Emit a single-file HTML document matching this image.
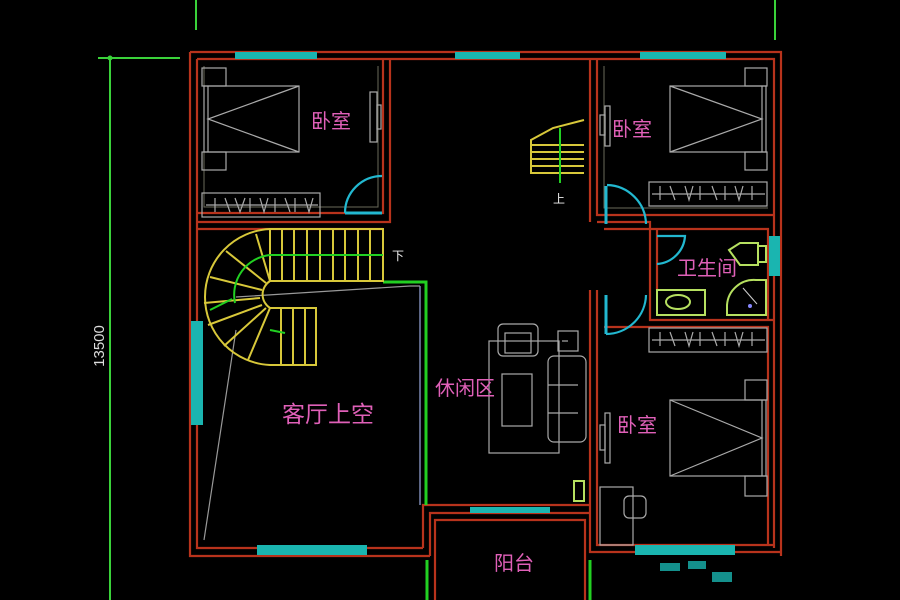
<!DOCTYPE html>
<html><head><meta charset="utf-8"><style>
html,body{margin:0;padding:0;background:#000;width:900px;height:600px;overflow:hidden}
svg{display:block}
text{font-family:"Liberation Sans","Noto Sans CJK SC",sans-serif}
.cn{fill:#e060b8;font-family:"Noto Sans CJK SC","WenQuanYi Zen Hei",sans-serif}
</style></head><body>
<svg width="900" height="600" viewBox="0 0 900 600" xmlns="http://www.w3.org/2000/svg">
<rect width="900" height="600" fill="#000"/>
<!-- dimension -->
<g stroke="#3ad23a" stroke-width="2" fill="none">
<line x1="196" y1="0" x2="196" y2="30"/>
<line x1="775" y1="0" x2="775" y2="40"/>
<line x1="110" y1="58" x2="110" y2="600"/>
<line x1="98" y1="58" x2="180" y2="58"/>
</g>
<circle cx="110" cy="58" r="2.5" fill="#3ad23a"/>
<text x="0" y="0" transform="translate(104,346) rotate(-90)" fill="#ddd" font-size="15" text-anchor="middle">13500</text>

<!-- walls -->
<g stroke="#b8331c" stroke-width="2.2" fill="none">
<!-- outer -->
<path d="M190 52 H781 V556"/>
<path d="M190 52 V556 H430"/>
<path d="M197 59 H774 V548"/>
<path d="M197 59 V548 H423"/>
<!-- left bedroom -->
<path d="M383 59 V213 H197"/>
<path d="M390 59 V222 H197"/>
<path d="M197 229 H383"/>
<!-- right bedrooms -->
<path d="M590 59 V222"/>
<path d="M597 59 V215 H774"/>
<path d="M597 222 H650 V320 H774"/>
<path d="M604 229 H768 V320"/>
<path d="M657 229 V290"/>
<path d="M590 290 V552 H597"/>
<path d="M597 290 V545 H774"/>
<path d="M604 327 H768 V545"/>
<!-- balcony -->
<path d="M423 548 V505 H590"/>
<path d="M430 556 V513 H590"/>
<path d="M435 600 V520 H585 V600"/>
<path d="M597 552 H781"/>
</g>
<!-- greyish inner lines -->
<g stroke="#6a6a5a" stroke-width="1" fill="none">
<path d="M204 66 V207 H378 V66"/>
<path d="M604 66 V208 H768"/>
</g>
<!-- windows cyan -->
<g fill="#1ab5b0">
<rect x="235" y="52" width="82" height="7"/>
<rect x="455" y="52" width="65" height="7"/>
<rect x="640" y="52" width="86" height="7"/>
<rect x="191" y="321" width="12" height="104"/>
<rect x="257" y="545" width="110" height="10"/>
<rect x="635" y="545" width="100" height="10"/>
<rect x="769" y="236" width="11" height="40"/>
<rect x="470" y="507" width="80" height="6"/>
</g>
<!-- green lines -->
<g stroke="#22d022" stroke-width="3" fill="none">
<path d="M383 282 H426 V505"/>
<line x1="427" y1="560" x2="427" y2="600"/>
<line x1="590" y1="560" x2="590" y2="600"/>
</g>
<line x1="420" y1="286" x2="420" y2="505" stroke="#9ad" stroke-width="1.2"/>
<!-- doors cyan -->
<g stroke="#22b8d0" stroke-width="2.2" fill="none">
<path d="M345 213 A37 37 0 0 1 382 176"/><line x1="345" y1="213" x2="382" y2="213" stroke-width="3"/>
<path d="M607 185 A40 40 0 0 1 646 224"/><line x1="606" y1="186" x2="606" y2="224" stroke-width="3"/>
<path d="M657 236 H685 A30 30 0 0 1 657 264"/>
<path d="M606 295 V334 M606 334 A40 40 0 0 0 646 295"/><line x1="606" y1="295" x2="606" y2="334" stroke-width="3"/>
</g>
<!-- left bedroom furniture -->
<g stroke="#aaa" stroke-width="1.2" fill="none">
<rect x="202" y="68" width="24" height="18"/>
<rect x="202" y="152" width="24" height="18"/>
<rect x="204" y="86" width="95" height="66"/><line x1="208" y1="86" x2="208" y2="152"/>
<path d="M299 86 L208 119 L299 152"/>
<rect x="370" y="92" width="7" height="50"/><rect x="377" y="105" width="4" height="24"/>
<rect x="202" y="193" width="118" height="24"/>
<path d="M206 205 H318 M215 198 v14 M225 198 l5 14 M235 198 l5 14 l5 -14 M250 198 v14 M260 198 l4 14 l4 -14 M275 198 v14 M285 198 l5 14 M295 198 v14 M305 198 l4 14 l4-14"/>
<!-- right top bedroom -->
<rect x="745" y="68" width="22" height="18"/><rect x="745" y="152" width="22" height="18"/>
<rect x="670" y="86" width="96" height="66"/><line x1="762" y1="86" x2="762" y2="152"/>
<path d="M670 86 L762 119 L670 152"/>
<rect x="605" y="106" width="5" height="40"/><rect x="600" y="115" width="5" height="20"/>
<rect x="649" y="182" width="118" height="24"/>
<path d="M652 194 H765 M660 186 v14 M670 186 l5 14 M685 186 l4 14 l4 -14 M700 186 v14 M712 186 l5 14 M725 186 v14 M735 186 l4 14 l4-14 M752 186 v14"/>
<rect x="649" y="328" width="118" height="24"/>
<path d="M652 340 H765 M660 332 v14 M670 332 l5 14 M685 332 l4 14 l4 -14 M700 332 v14 M712 332 l5 14 M725 332 v14 M735 332 l4 14 l4-14 M752 332 v14"/>
<!-- lower right bedroom -->
<rect x="745" y="380" width="22" height="20"/><rect x="745" y="476" width="22" height="20"/>
<rect x="670" y="400" width="96" height="76"/><line x1="762" y1="400" x2="762" y2="476"/>
<path d="M670 400 L762 438 L670 476"/>
<rect x="605" y="413" width="5" height="50"/><rect x="600" y="425" width="5" height="25"/>
<rect x="600" y="487" width="33" height="58"/>
<rect x="624" y="496" width="22" height="22" rx="5"/>
<!-- living -->
<rect x="489" y="341" width="70" height="112"/>
<rect x="498" y="324" width="40" height="32" rx="5"/><rect x="505" y="333" width="26" height="20"/>
<rect x="558" y="331" width="20" height="20"/><line x1="562" y1="341" x2="568" y2="341"/>
<rect x="548" y="356" width="38" height="86" rx="6"/>
<path d="M548 385 H578 M548 413 H578"/>
<rect x="502" y="374" width="30" height="52"/>
<!-- void diagonals -->
<path d="M410 286 L236 297 M236 330 L204 540 M410 286 L420 286" stroke="#999"/>
</g>
<!-- bathroom fixtures -->
<g stroke="#b6e060" stroke-width="2" fill="none">
<path d="M729 250 L740 243 H758 V265 H740 Z"/><rect x="758" y="246" width="8" height="16"/>
<rect x="657" y="290" width="48" height="25"/>
<ellipse cx="678" cy="302" rx="12" ry="7"/>
<path d="M766 280 V315 H727 V305 A27 27 0 0 1 756 280 Z"/>
<rect x="574" y="481" width="10" height="20"/>
</g>
<circle cx="750" cy="306" r="2" fill="#88f"/>
<line x1="743" y1="288" x2="757" y2="304" stroke="#ccc"/>
<!-- stairs -->
<g stroke="#d8c83a" stroke-width="2" fill="none">
<rect x="270" y="229" width="113" height="52"/>
<path d="M282 229 V281 M294 229 V281 M307 229 V281 M320 229 V281 M333 229 V281 M345 229 V281 M358 229 V281 M370 229 V281"/>
<path d="M270 229 A68 68 0 0 0 205 297 A68 68 0 0 0 270 365 H316 V308 H270"/>
<path d="M270 281 A16 16 0 0 0 270 308"/>
<path d="M270 281 L256 234 M266 283 L226 251 M262 290 L210 277 M260 298 L204 303 M262 305 L208 325 M266 308 L224 346 M270 308 L248 360"/>
<path d="M281 308 V365 M293 308 V365 M305 308 V365"/>
<!-- top right small stair -->
<path d="M584 120 L553 128 L531 140 V173 H584"/>
<path d="M531 145 H584 M531 152 H584 M531 159 H584 M531 166 H584"/>
</g>
<g stroke="#22d022" stroke-width="2" fill="none">
<path d="M383 255 H270 A40 40 0 0 0 235 303"/>
<path d="M232 299 L210 310 M270 330 L285 333"/>
<line x1="560" y1="128" x2="560" y2="183"/>
</g>
<text x="392" y="260" fill="#eee" font-size="12" font-family="Noto Sans CJK SC,sans-serif">下</text>
<text x="553" y="203" fill="#eee" font-size="12" font-family="Noto Sans CJK SC,sans-serif">上</text>
<!-- labels -->
<text class="cn" x="311" y="128" font-size="20">卧室</text>
<text class="cn" x="612" y="136" font-size="20">卧室</text>
<text class="cn" x="677" y="275" font-size="20">卫生间</text>
<text class="cn" x="282" y="422" font-size="23">客厅上空</text>
<text class="cn" x="435" y="395" font-size="20">休闲区</text>
<text class="cn" x="617" y="432" font-size="20">卧室</text>
<text class="cn" x="494" y="570" font-size="20">阳台</text>
<!-- bottom right blur -->
<g fill="#1ab5b0" opacity="0.8">
<rect x="660" y="563" width="20" height="8"/><rect x="688" y="561" width="18" height="8"/><rect x="712" y="572" width="20" height="10"/>
</g>
</svg>
</body></html>
